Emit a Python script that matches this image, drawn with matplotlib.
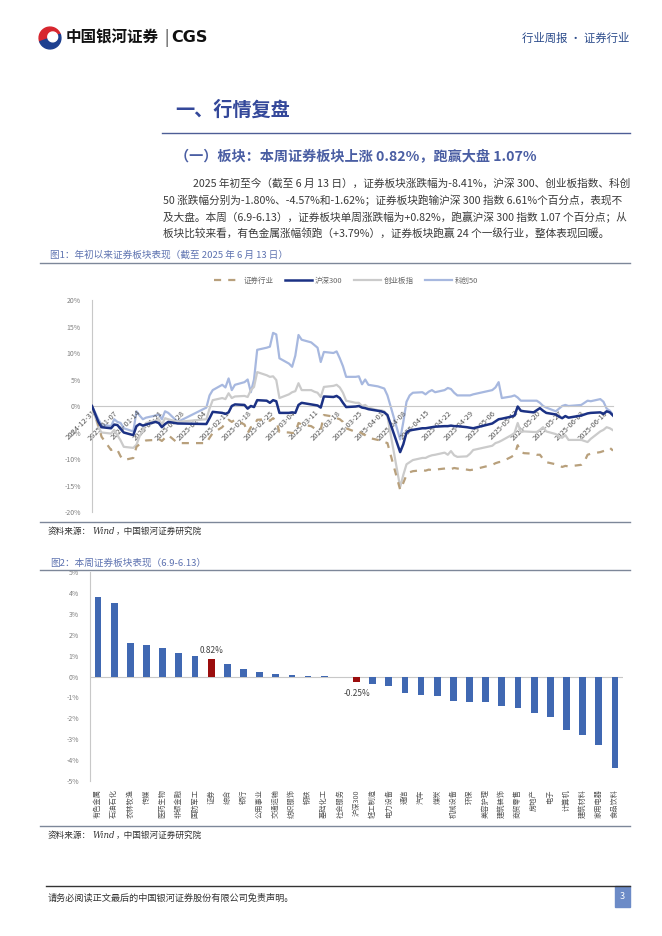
import matplotlib
matplotlib.use('Agg')
import matplotlib.pyplot as plt
import matplotlib.dates as mdates
from matplotlib.patches import Wedge, Rectangle
import pandas as pd

plt.rcParams['font.family'] = ['Noto Sans CJK SC', 'DejaVu Sans']

# ---------------- 图1 数据：年初以来累计涨跌幅（%） ----------------
jan_days = [2, 3, 6, 7, 8, 9, 10, 13, 14, 15, 16, 17, 20, 21, 22, 23, 24, 27]
feb_days = [5, 6, 7, 10, 11, 12, 13, 14, 17, 18, 19, 20, 21, 24, 25, 26, 27, 28]
mar_days = [3, 4, 5, 6, 7, 10, 11, 12, 13, 14, 17, 18, 19, 20, 21, 24, 25, 26, 27, 28, 31]
apr_days = [1, 2, 3, 7, 8, 9, 10, 11, 14, 15, 16, 17, 18, 21, 22, 23, 24, 25, 28, 29, 30]
may_days = [6, 7, 8, 9, 12, 13, 14, 15, 16, 19, 20, 21, 22, 23, 26, 27, 28, 29, 30]
jun_days = [3, 4, 5, 6, 9, 10, 11, 12, 13]

zq = ([0.0]
      + [-3.6, -5.8, -8.3, -8.0, -8.3, -9.5, -10.2, -9.8, -7.7, -7.2, -6.8, -6.5, -6.4, -6.2, -6.6, -6.0, -5.5, -7.0]
      + [-7.0, -6.0, -5.1, -4.0, -3.2, -2.6, -3.0, -2.6, -3.5, -5.1, -4.0, -3.8, -2.6, -2.5, -2.8, -2.3, -2.8, -4.9]
      + [-5.0, -5.1, -5.0, -3.2, -3.5, -3.8, -4.2, -4.3, -4.5, -1.7, -2.0, -2.3, -2.5, -3.0, -4.2, -4.9, -4.8, -5.2, -5.5, -6.0, -6.4]
      + [-6.5, -6.8, -7.0, -15.8, -14.5, -13.0, -12.5, -12.3, -12.1, -12.2, -12.0, -12.1, -12.0, -11.8, -11.7, -11.9, -11.7, -11.8, -12.0, -12.1, -12.0]
      + [-11.1, -10.8, -10.6, -10.5, -9.6, -9.2, -7.4, -8.7, -8.9, -9.0, -9.2, -9.2, -10.0, -10.6, -11.0, -11.2, -11.5, -11.3, -11.4]
      + [-11.1, -10.5, -9.2, -9.0, -8.7, -8.5, -8.3, -7.9, -8.41])

hs300 = ([0.0]
         + [-3.0, -4.0, -4.2, -3.5, -3.6, -4.3, -5.0, -5.5, -3.8, -3.4, -3.7, -3.5, -3.0, -3.2, -4.0, -3.4, -3.0, -3.3]
         + [-3.4, -2.3, -1.1, -1.3, -1.5, -1.2, 0.0, 0.3, 0.2, -0.5, 0.0, -0.2, 1.1, 1.0, 0.6, 1.1, 0.9, -1.3]
         + [-1.3, -1.2, -1.3, 0.2, 0.6, 0.3, 0.2, 0.1, -0.3, 1.8, 1.7, 1.9, 1.5, 0.6, -0.2, -0.1, 0.0, -0.3, -0.4, -0.6, -0.9]
         + [-1.0, -1.2, -1.7, -8.7, -7.2, -5.0, -4.6, -4.5, -4.2, -4.2, -4.1, -4.0, -3.9, -3.8, -3.8, -3.7, -3.8, -3.8, -4.0, -4.1, -4.2]
         + [-3.3, -2.9, -2.5, -2.4, -2.0, -1.8, -0.1, -0.9, -1.0, -1.2, -0.8, -0.4, -0.9, -1.3, -1.6, -2.0, -2.3, -1.9, -2.2]
         + [-1.8, -1.6, -1.4, -1.3, -1.2, -1.5, -1.0, -1.2, -1.80])

cyb = ([0.0]
       + [-4.0, -5.0, -5.2, -4.5, -5.5, -6.5, -7.7, -7.9, -7.3, -5.7, -4.5, -3.2, -2.8, -2.5, -3.5, -2.3, -2.5, -3.0]
       + [-2.5, -0.5, 1.1, 1.5, 1.3, 2.4, 1.5, 1.8, 1.9, 1.7, 3.0, 3.6, 6.4, 5.8, 5.5, 5.6, 4.9, 1.5]
       + [2.2, 2.6, 2.8, 4.3, 3.0, 3.0, 2.7, 2.5, 1.7, 3.6, 3.8, 4.0, 3.5, 2.5, 1.0, 0.6, 0.6, 0.0, 0.2, -0.3, -0.8]
       + [-0.8, -1.0, -2.0, -15.3, -13.0, -11.0, -10.6, -10.2, -9.8, -9.8, -9.5, -9.3, -9.2, -8.8, -9.2, -8.5, -9.3, -9.6, -9.5, -9.0, -8.3]
       + [-7.5, -7.0, -6.8, -6.5, -5.5, -5.1, -3.2, -4.9, -4.8, -4.9, -4.9, -4.5, -4.0, -4.8, -5.3, -5.8, -6.0, -5.5, -6.4]
       + [-6.4, -6.6, -6.8, -6.2, -4.8, -4.5, -4.0, -4.2, -4.57])

kc50 = ([0.0]
        + [-2.5, -3.5, -3.8, -2.5, -3.0, -3.2, -4.2, -4.8, -1.0, -1.8, -2.5, -2.2, -1.8, -1.6, -2.5, -1.0, -1.3, -3.0]
        + [-0.3, 2.0, 3.0, 4.0, 3.5, 5.2, 3.0, 4.0, 4.5, 5.0, 2.6, 5.0, 10.6, 11.0, 11.2, 13.8, 13.5, 9.0]
        + [8.0, 7.4, 9.5, 13.4, 12.5, 12.0, 11.5, 11.0, 8.3, 10.2, 10.0, 10.3, 9.0, 7.5, 5.5, 5.5, 5.6, 4.1, 5.0, 4.0, 3.7]
        + [3.5, 3.3, 2.0, -6.3, -3.0, 0.8, 2.0, 2.5, 2.6, 2.2, 2.7, 3.0, 2.6, 3.0, 3.4, 3.2, 2.5, 2.0, 2.0, 2.0, 2.2]
        + [3.0, 3.5, 4.5, 1.5, 1.8, 2.0, 1.6, 1.0, 1.0, 1.0, 1.0, 0.6, 0.0, -0.3, -1.0, -0.5, 0.0, 0.2, 0.0]
        + [0.2, 0.6, 1.0, 0.9, 1.3, 0.8, -0.5, -0.9, -1.62])

series_names = ['证券行业', '沪深300', '创业板指', '科创50']

# ---------------- 图2 数据：本周（6.9-6.13）涨跌幅（%） ----------------
industries = ['有色金属', '石油石化', '农林牧渔', '传媒', '医药生物', '非银金融', '国防军工', '证券',
              '综合', '银行', '公用事业', '交通运输', '纺织服饰', '钢铁', '基础化工', '社会服务',
              '沪深300', '轻工制造', '电力设备', '通信', '汽车', '煤炭', '机械设备', '环保',
              '美容护理', '建筑装饰', '商贸零售', '房地产', '电子', '计算机', '建筑材料', '家用电器', '食品饮料']
weekly = [3.79, 3.50, 1.60, 1.52, 1.37, 1.13, 1.00, 0.82,
          0.60, 0.38, 0.22, 0.14, 0.05, 0.02, 0.01, -0.02,
          -0.25, -0.37, -0.45, -0.80, -0.87, -0.93, -1.17, -1.20,
          -1.23, -1.42, -1.51, -1.77, -1.93, -2.54, -2.79, -3.28, -4.40]
highlight = ['证券', '沪深300']

# 日期 -> matplotlib 数值
dates = [pd.Timestamp('2024-12-31')]
for m, days in zip([1, 2, 3, 4, 5, 6], [jan_days, feb_days, mar_days, apr_days, may_days, jun_days]):
    dates += [pd.Timestamp(2025, m, d) for d in days]
xd = mdates.date2num([d.to_pydatetime() for d in dates])

W, H = 662, 936


def fx(x):
    return x / W


def fy(y):
    return 1 - y / H


def source_note(y):
    fig.text(fx(48), fy(y), '资料来源：', fontsize=6.2, color='#333333', va='center')
    fig.text(fx(92), fy(y), 'Wind', fontsize=6.2, color='#333333', va='center', style='italic',
             family=['DejaVu Serif'])
    fig.text(fx(116), fy(y), '，中国银河证券研究院', fontsize=6.2, color='#333333', va='center')


fig = plt.figure(figsize=(W / 100, H / 100), dpi=100)

# ---------------- 页眉 ----------------
logo = fig.add_axes([fx(38), fy(50), fx(24), 24 / H])
logo.set_xlim(-1.1, 1.1)
logo.set_ylim(-1.1, 1.1)
logo.set_aspect('equal')
logo.axis('off')
logo.add_patch(Wedge((0, 0), 1, 20, 200, color='#d7262e'))
logo.add_patch(Wedge((0, 0), 1, 200, 380, color='#1d3f8f'))
logo.add_patch(Wedge((0.25, 0.1), 0.45, 0, 360, color='white'))
fig.text(fx(66), fy(38), '中国银河证券', fontsize=11.2, fontweight='bold', color='#111111', va='center')
fig.text(fx(164), fy(38), '|', fontsize=11, color='#333333', va='center')
fig.text(fx(171), fy(38), 'CGS', fontsize=11.5, fontweight='bold', color='#111111', va='center',
         family=['DejaVu Sans'])
fig.text(fx(629), fy(38), '行业周报 · 证券行业', fontsize=8.2, color='#2a4a8a', ha='right', va='center')

# ---------------- 标题与正文 ----------------
title_c = '#34489a'
fig.text(fx(175), fy(110), '一、行情复盘', fontsize=13.8, fontweight='bold', color=title_c, va='center')
fig.add_artist(plt.Line2D([fx(162), fx(630)], [fy(133), fy(133)], color='#4d5e96', lw=1.0))
fig.text(fx(175), fy(157), '（一）板块：本周证券板块上涨 0.82%，跑赢大盘 1.07%', fontsize=10.2,
         fontweight='bold', color='#4a5ea3', va='center')

body = [
    (193, '2025 年初至今（截至 6 月 13 日），证券板块涨跌幅为-8.41%，沪深 300、创业板指数、科创'),
    (163, '50 涨跌幅分别为-1.80%、-4.57%和-1.62%；证券板块跑输沪深 300 指数 6.61%个百分点，表现不'),
    (163, '及大盘。本周（6.9-6.13），证券板块单周涨跌幅为+0.82%，跑赢沪深 300 指数 1.07 个百分点；从'),
    (163, '板块比较来看，有色金属涨幅领跑（+3.79%），证券板块跑赢 24 个一级行业，整体表现回暖。'),
]
for i, (x0, line) in enumerate(body):
    fig.text(fx(x0), fy(183 + 17 * i), line, fontsize=7.7, color='#3a3a3a', va='center')

cap_c = '#5d72b0'
rule_c = '#7d8799'
fig.text(fx(50), fy(255), '图1：年初以来证券板块表现（截至 2025 年 6 月 13 日）', fontsize=6.9, color=cap_c, va='center')
fig.add_artist(plt.Line2D([fx(40), fx(630)], [fy(263), fy(263)], color=rule_c, lw=1.0))

# ---------------- 图1 ----------------
ax1 = fig.add_axes([fx(92), fy(512), fx(613) - fx(92), (512 - 300) / H])
# 横轴放在 0% 处（先设，再设刻度标签，否则标签属性会被重置）
ax1.spines['bottom'].set_position(('data', 0))
line_styles = [
    (zq, '#b8a07c', (0, (3.2, 3.2)), 1.6, 3),
    (hs300, '#1b3184', '-', 1.8, 4),
    (cyb, '#cbcbcb', '-', 1.6, 2),
    (kc50, '#a7b8df', '-', 1.6, 1),
]
for name, (vals, col, ls, lw, z) in zip(series_names, line_styles):
    ax1.plot(xd, vals, color=col, linestyle=ls, lw=lw, zorder=z, label=name)

xt = pd.date_range('2024-12-31', '2025-06-13', freq='7D')
xt_num = mdates.date2num([d.to_pydatetime() for d in xt])
ax1.set_xlim(xd[0], xd[-1])
ax1.set_ylim(-20, 20)
ax1.set_yticks(range(-20, 21, 5))
ax1.set_yticklabels([f'{v}%' for v in range(-20, 21, 5)])
ax1.set_xticks(xt_num)
ax1.set_xticklabels([d.strftime('%Y-%m-%d') for d in xt], rotation=45, ha='right',
                    rotation_mode='anchor', fontsize=5.4, color='#555555')
for s in ['top', 'right']:
    ax1.spines[s].set_visible(False)
ax1.spines['left'].set_color('#c8c8c8')
ax1.spines['bottom'].set_color('#c8c8c8')
ax1.spines['left'].set_linewidth(0.8)
ax1.spines['bottom'].set_linewidth(0.8)
ax1.tick_params(axis='y', length=0, labelsize=5, labelcolor='#808080', pad=8)
ax1.tick_params(axis='x', length=0, pad=2)
ax1.patch.set_alpha(0)

fig.legend(*ax1.get_legend_handles_labels(), loc='center', bbox_to_anchor=(fx(346), fy(281)),
           ncol=4, frameon=False, fontsize=5.4, handlelength=3.6, columnspacing=1.6,
           handletextpad=0.3, labelcolor='#666666')

fig.add_artist(plt.Line2D([fx(40), fx(630)], [fy(522), fy(522)], color=rule_c, lw=1.0))
source_note(531)

# ---------------- 图2 ----------------
fig.text(fx(50), fy(563), '图2：本周证券板块表现（6.9-6.13）', fontsize=6.9, color=cap_c, va='center')
fig.add_artist(plt.Line2D([fx(40), fx(630)], [fy(570), fy(570)], color=rule_c, lw=1.0))

ax2 = fig.add_axes([fx(90), fy(781), fx(623) - fx(90), (781 - 572) / H])
xs = list(range(len(industries)))
colors = ['#9b0d0d' if n in highlight else '#4068b2' for n in industries]
ax2.bar(xs, weekly, width=0.42, color=colors, zorder=2)
ax2.axhline(0, color='#c8c8c8', lw=0.8, zorder=1)
ax2.set_xlim(-0.5, len(industries) - 0.5)
ax2.set_ylim(-5, 5)
ax2.set_yticks(range(-5, 6))
ax2.set_yticklabels([f'{v}%' for v in range(-5, 6)])
ax2.set_xticks(xs)
ax2.set_xticklabels(industries, rotation=90, fontsize=5.2, color='#555555')
for s in ['top', 'right', 'bottom']:
    ax2.spines[s].set_visible(False)
ax2.spines['left'].set_color('#c8c8c8')
ax2.spines['left'].set_linewidth(0.8)
ax2.tick_params(axis='y', length=0, labelsize=5, labelcolor='#808080', pad=8)
ax2.tick_params(axis='x', length=0, pad=6)
for n, v, x in zip(industries, weekly, xs):
    if n in highlight:
        if v >= 0:
            ax2.annotate(f'{v:.2f}%', (x, v), xytext=(0, 3), textcoords='offset points',
                         ha='center', va='bottom', fontsize=6, color='#404040')
        else:
            ax2.annotate(f'{v:.2f}%', (x, v), xytext=(0, -5), textcoords='offset points',
                         ha='center', va='top', fontsize=6, color='#404040')

fig.add_artist(plt.Line2D([fx(40), fx(630)], [fy(826), fy(826)], color=rule_c, lw=1.0))
source_note(835)

# ---------------- 页脚 ----------------
fig.add_artist(plt.Line2D([fx(46), fx(630)], [fy(886), fy(886)], color='#333333', lw=1.0))
fig.text(fx(48), fy(898), '请务必阅读正文最后的中国银河证券股份有限公司免责声明。', fontsize=6.6,
         color='#333333', va='center')
fig.add_artist(Rectangle((fx(615), fy(907)), fx(15), 21 / H, transform=fig.transFigure,
                         color='#6c8bc7'))
fig.text(fx(622.5), fy(896.5), '3', fontsize=6.5, color='white', ha='center', va='center')

fig.savefig('out.png', dpi=100)
